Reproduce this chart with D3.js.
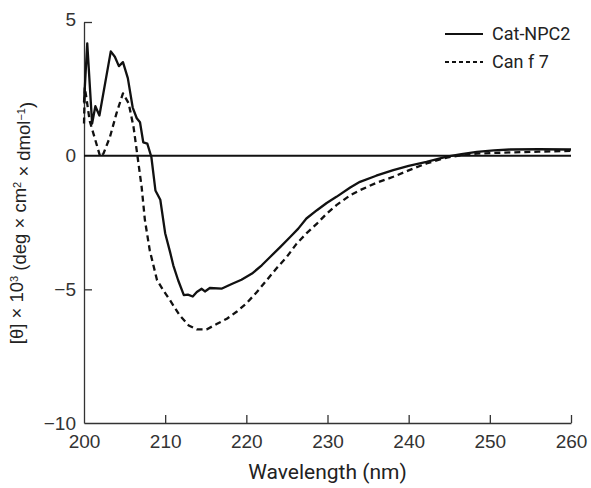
<!DOCTYPE html>
<html>
<head>
<meta charset="utf-8">
<script src="https://cdn.jsdelivr.net/npm/d3@7"></script>
<style>
  body { margin: 0; background: #fff; }
  #wrapper { width: 591px; height: 488px; }
</style>
</head>
<body>
<div id="wrapper"></div>
<script>
// wavelength (nm) and mean residue ellipticity (x10^3)
const catWavelength = [200.0, 200.4, 201.0, 201.4, 201.9, 203.3, 203.8, 204.3, 204.8, 205.4,
  206.0, 206.5, 206.9, 207.3, 207.8, 208.3, 208.8, 209.4, 210.0, 210.6, 211.0, 211.6, 212.3,
  212.8, 213.4, 213.9, 214.5, 214.9, 215.5, 217.0, 218.2, 219.4, 220.7, 221.9, 222.9, 224.2,
  225.4, 226.4, 227.4, 228.7, 229.9, 231.1, 232.8, 234.0, 236.0, 238.1, 240.0, 242.2, 244.7,
  246.5, 248.4, 250.5, 252.5, 256.0, 260.0];
const catValues = [2.0, 4.2, 1.2, 1.85, 1.5, 3.9, 3.7, 3.35, 3.5, 2.9,
  1.8, 1.4, 1.25, 0.5, 0.45, -0.05, -1.3, -1.65, -2.9, -3.6, -4.1, -4.66, -5.22,
  -5.2, -5.27, -5.1, -4.98, -5.08, -4.95, -4.97, -4.8, -4.64, -4.41, -4.1, -3.8, -3.41,
  -3.04, -2.73, -2.35, -2.04, -1.77, -1.54, -1.19, -0.98, -0.75, -0.54, -0.38, -0.23, -0.04,
  0.06, 0.14, 0.2, 0.23, 0.24, 0.23];

const canWavelength = [200.0, 200.1, 200.3, 200.7, 201.4, 202.0, 202.4, 203.2, 204.0, 204.8,
  205.5, 206.1, 206.6, 207.1, 207.5, 208.1, 209.0, 209.8, 210.6, 211.8, 212.9, 213.9, 215.1,
  216.4, 217.6, 218.8, 220.0, 221.3, 222.5, 223.7, 225.0, 226.2, 227.4, 228.7, 229.9, 231.1,
  232.8, 234.0, 236.0, 238.1, 240.0, 242.2, 244.7, 246.5, 248.4, 252.5, 256.0, 260.0];
const canValues = [1.2, 2.55, 2.15, 1.3, 0.58, -0.04, 0.08, 0.7, 1.58, 2.33,
  1.96, 1.08, -0.04, -1.17, -2.4, -3.54, -4.66, -5.05, -5.41, -5.98, -6.35, -6.5, -6.5,
  -6.29, -6.1, -5.84, -5.53, -5.1, -4.66, -4.22, -3.78, -3.29, -2.91, -2.54, -2.17, -1.85,
  -1.48, -1.29, -1.02, -0.79, -0.55, -0.29, -0.07, 0.02, 0.08, 0.12, 0.15, 0.18];

const seriesNames = ["Cat-NPC2", "Can f 7"];
const xTicks = [200, 210, 220, 230, 240, 250, 260];
const yTicks = [5, 0, -5, -10];

const series = [
  { name: seriesNames[0], dash: null,
    points: catWavelength.map((w, i) => ({ w, v: catValues[i] })) },
  { name: seriesNames[1], dash: "6,4",
    points: canWavelength.map((w, i) => ({ w, v: canValues[i] })) }
];

const dimensions = {
  width: 591,
  height: 488,
  margin: { top: 22, right: 20, bottom: 65, left: 84 }
};
dimensions.boundedWidth = dimensions.width - dimensions.margin.left - dimensions.margin.right;
dimensions.boundedHeight = dimensions.height - dimensions.margin.top - dimensions.margin.bottom;

const wrapper = d3.select("#wrapper")
  .append("svg")
  .attr("width", dimensions.width)
  .attr("height", dimensions.height);

const bounds = wrapper.append("g")
  .attr("transform", `translate(${dimensions.margin.left},${dimensions.margin.top})`);

const xScale = d3.scaleLinear()
  .domain([200, 260])
  .range([0, dimensions.boundedWidth]);

const yScale = d3.scaleLinear()
  .domain([-10, 5])
  .range([dimensions.boundedHeight, 0]);

const tickFont = "'Liberation Sans', Arial, sans-serif";
const labelFont = "Roboto, 'Noto Sans', sans-serif";
const axisColor = "#333";

// x axis, ticks point inward (up)
const xAxis = bounds.append("g")
  .attr("transform", `translate(0,${dimensions.boundedHeight})`)
  .call(d3.axisBottom(xScale).tickValues(xTicks).tickSize(-8).tickPadding(12).tickSizeOuter(0));
xAxis.select(".domain").attr("stroke", axisColor).attr("stroke-width", 1.3);
xAxis.selectAll(".tick line").attr("stroke", axisColor).attr("stroke-width", 1.3);
xAxis.selectAll(".tick").filter(d => d === 200).select("line").remove();
xAxis.selectAll("text")
  .attr("fill", axisColor)
  .style("font-family", tickFont)
  .style("font-size", "19px");

// y axis, ticks point inward (right)
const yAxis = bounds.append("g")
  .call(d3.axisLeft(yScale).tickValues(yTicks).tickSize(-8).tickPadding(8).tickSizeOuter(0)
    .tickFormat(d => d < 0 ? "\u2212" + Math.abs(d) : d));
yAxis.select(".domain").attr("stroke", axisColor).attr("stroke-width", 1.3);
yAxis.selectAll(".tick line").attr("stroke", axisColor).attr("stroke-width", 1.3);
yAxis.selectAll(".tick").filter(d => d === 0 || d === -10).select("line").remove();
yAxis.selectAll("text")
  .attr("fill", axisColor)
  .style("font-family", tickFont)
  .style("font-size", "19px");
yAxis.selectAll(".tick").filter(d => d === 5).select("text").attr("dy", "0.2em");

// zero line
bounds.append("line")
  .attr("x1", 0)
  .attr("x2", dimensions.boundedWidth)
  .attr("y1", yScale(0))
  .attr("y2", yScale(0))
  .attr("stroke", "#111")
  .attr("stroke-width", 2);

const lineGenerator = d3.line()
  .x(d => xScale(d.w))
  .y(d => yScale(d.v));

bounds.selectAll(".series")
  .data(series)
  .join("path")
  .attr("class", "series")
  .attr("d", d => lineGenerator(d.points))
  .attr("fill", "none")
  .attr("stroke", "#111")
  .attr("stroke-width", 2.3)
  .attr("stroke-linejoin", "round")
  .attr("stroke-dasharray", d => d.dash);

// legend
const legend = wrapper.append("g")
  .attr("transform", "translate(445,34)");
const legendItems = legend.selectAll("g")
  .data(series)
  .join("g")
  .attr("transform", (d, i) => `translate(0,${i * 28})`);
legendItems.append("line")
  .attr("x1", 0)
  .attr("x2", 38)
  .attr("stroke", "#111")
  .attr("stroke-width", 2.2)
  .attr("stroke-dasharray", d => d.dash ? "4,3" : null);
legendItems.append("text")
  .attr("x", 47)
  .attr("dy", "0.35em")
  .attr("fill", "#222")
  .style("font-family", labelFont)
  .style("font-size", "18px")
  .text(d => d.name);

// axis labels
wrapper.append("text")
  .attr("x", dimensions.margin.left + dimensions.boundedWidth / 2)
  .attr("y", 479)
  .attr("text-anchor", "middle")
  .attr("fill", "#222")
  .style("font-family", labelFont)
  .style("font-size", "21px")
  .text("Wavelength (nm)");

const yLabel = wrapper.append("text")
  .attr("transform", "translate(23,223) rotate(-90)")
  .attr("text-anchor", "middle")
  .attr("fill", "#222")
  .style("font-family", tickFont)
  .style("font-size", "18.5px");
yLabel.append("tspan").text("[\u03b8] \u00d7 10");
yLabel.append("tspan").attr("dy", "-0.45em").style("font-size", "11px").text("3");
yLabel.append("tspan").attr("dy", "0.45em").text(" (deg \u00d7 cm");
yLabel.append("tspan").attr("dy", "-0.45em").style("font-size", "11px").text("2");
yLabel.append("tspan").attr("dy", "0.45em").text(" \u00d7 dmol");
yLabel.append("tspan").attr("dy", "-0.45em").style("font-size", "11px").text("\u22121");
yLabel.append("tspan").attr("dy", "0.45em").text(")");
</script>
</body>
</html>
